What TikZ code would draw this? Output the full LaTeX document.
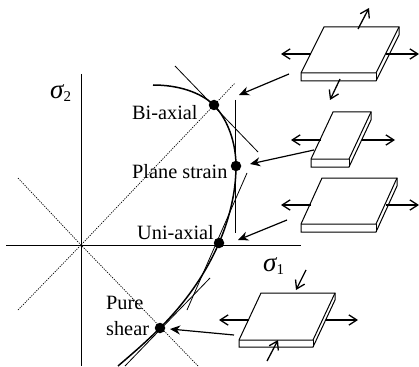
\documentclass[tikz,border=0pt]{standalone}
\usepackage{fontspec}
\setmainfont{Liberation Serif}
\usepackage{tikz}
\usetikzlibrary{arrows.meta,calc}
% plate: front-left corner, width, depth offset, thickness
\newcommand{\plate}[7]{%
  \coordinate (#1fl) at (#2,#3);
  \coordinate (#1fr) at (#2+#4,#3);
  \coordinate (#1tl) at (#2+#5,#3-#6);
  \coordinate (#1tr) at (#2+#4+#5,#3-#6);
  \draw[platefill] (#1fl) -- (#1tl) -- (#1tr) -- ++(0,#7) -- ($(#1fr)+(0,#7)$) -- ($(#1fl)+(0,#7)$) -- cycle;
  \draw[plateline] (#1fl) -- (#1fr) -- (#1tr);
  \draw[plateline] (#1fr) -- ++(0,#7);}
\newcommand{\sigmalab}[1]{{\fontsize{27}{27}\selectfont\itshape σ}\raisebox{-0.6ex}{\fontsize{15}{15}\selectfont #1}}
\begin{document}
\begin{tikzpicture}[x=1pt,y=-1pt,
  axis/.style={line width=0.9pt},
  guide/.style={dash pattern=on 1.2pt off 1.2pt, line width=0.7pt},
  tangent/.style={line width=0.8pt},
  locus/.style={line width=1.5pt},
  dot/.style={circle, fill=black, inner sep=0pt, minimum size=10.5pt},
  lab/.style={font=\fontsize{20.3}{22}\selectfont, inner sep=0pt, align=left},
  platefill/.style={fill=white, draw=black, line width=1pt, line join=miter},
  plateline/.style={line width=1pt},
  stress/.style={-{Straight Barb[length=2.8mm, width=3.6mm]}, line width=1.3pt},
  pointer/.style={-{Stealth[length=3.6mm, width=3.2mm]}, line width=1.2pt}]
  \useasboundingbox (0,0) rectangle (419,366);

  % --- axes and guides ---
  \coordinate (o) at (81,245);
  \coordinate (xl) at (6,245);
  \coordinate (xr) at (301,245);
  \coordinate (yt) at (81,74);
  \coordinate (yb) at (81,366);
  \draw[axis] (xl) -- (xr);
  \draw[axis] (yt) -- (yb);
  \coordinate (ga) at (18,310);
  \coordinate (gb) at (235,83);
  \coordinate (gc) at (18,178);
  \coordinate (gd) at (198,366);
  \draw[guide] (ga) -- (o) -- (gb);
  \draw[guide] (gc) -- (o) -- (gd);

  % --- tangents ---
  \coordinate (ta) at (175,66);
  \coordinate (tb) at (258,152);
  \coordinate (tc) at (235,100);
  \coordinate (td) at (235,233);
  \coordinate (te) at (187,310);
  \coordinate (tf) at (247,173);
  \coordinate (tg) at (125,366);
  \coordinate (th) at (210,278);
  \draw[tangent] (ta) -- (tb);
  \draw[tangent] (tc) -- (td);
  \draw[tangent] (te) -- (tf);
  \draw[tangent] (tg) -- (th);

  % --- yield locus ---
  \coordinate (ls) at (153,85);
  \coordinate (le) at (118,366);
  \draw[locus] (ls) .. controls (178,85) and (200,92) .. (214,105)
    .. controls (228,120) and (236,143) .. (236,166)
    .. controls (236,195) and (228,222) .. (219,243)
    .. controls (205,275) and (185,303) .. (160,328)
    .. controls (146,342) and (132,354) .. (le);

  \node[dot] (bi) at (214,105) {};
  \node[dot] (ps) at (236,166) {};
  \node[dot] (ua) at (219,243) {};
  \node[dot] (sh) at (160,328) {};

  % --- labels ---
  \node[lab, anchor=west] (lbi) at (132,113) {Bi-axial};
  \node[lab, anchor=west] (lps) at (132,172) {Plane strain};
  \node[lab, anchor=west] (lua) at (137,233) {Uni-axial};
  \node[lab, anchor=west] (lpu) at (106,303) {Pure};
  \node[lab, anchor=west] (lsh) at (106,329) {shear};
  \node[inner sep=0pt, anchor=west] (s2) at (50,93) {\sigmalab{2}};
  \node[inner sep=0pt, anchor=west] (s1) at (263,266) {\sigmalab{1}};

  % --- plates ---
  \plate{pa}{301}{73}{75}{23}{46}{8}
  \plate{pb}{311}{159}{38}{22}{47}{8}
  \plate{pc}{301}{224}{75}{21}{46}{8}
  \plate{pd}{239}{340}{74}{22}{47}{7}

  % --- stress arrows ---
  \foreach \ax/\ay/\bx/\by in {358/29/369/8, 311/54/281/54, 386/54/419/54, 340/79/330/100,
      321/140/291/140, 362/140/395/140,
      311/205/281/205, 386/205/419/205,
      249/320/219/320, 326/320/358/320, 306/270/296/290, 267/361/278/340}
    \draw[stress] (\ax,\ay) -- (\bx,\by);

  % --- pointers ---
  \coordinate (qa) at (289,74);
  \coordinate (ra) at (239,95);
  \coordinate (qb) at (314,150);
  \coordinate (rb) at (250,164);
  \coordinate (qc) at (287,220);
  \coordinate (rc) at (238,240);
  \coordinate (qd) at (234,335);
  \coordinate (rd) at (170,329);
  \draw[pointer] (qa) -- (ra);
  \draw[pointer] (qb) -- (rb);
  \draw[pointer] (qc) -- (rc);
  \draw[pointer] (qd) -- (rd);
\end{tikzpicture}
\end{document}
